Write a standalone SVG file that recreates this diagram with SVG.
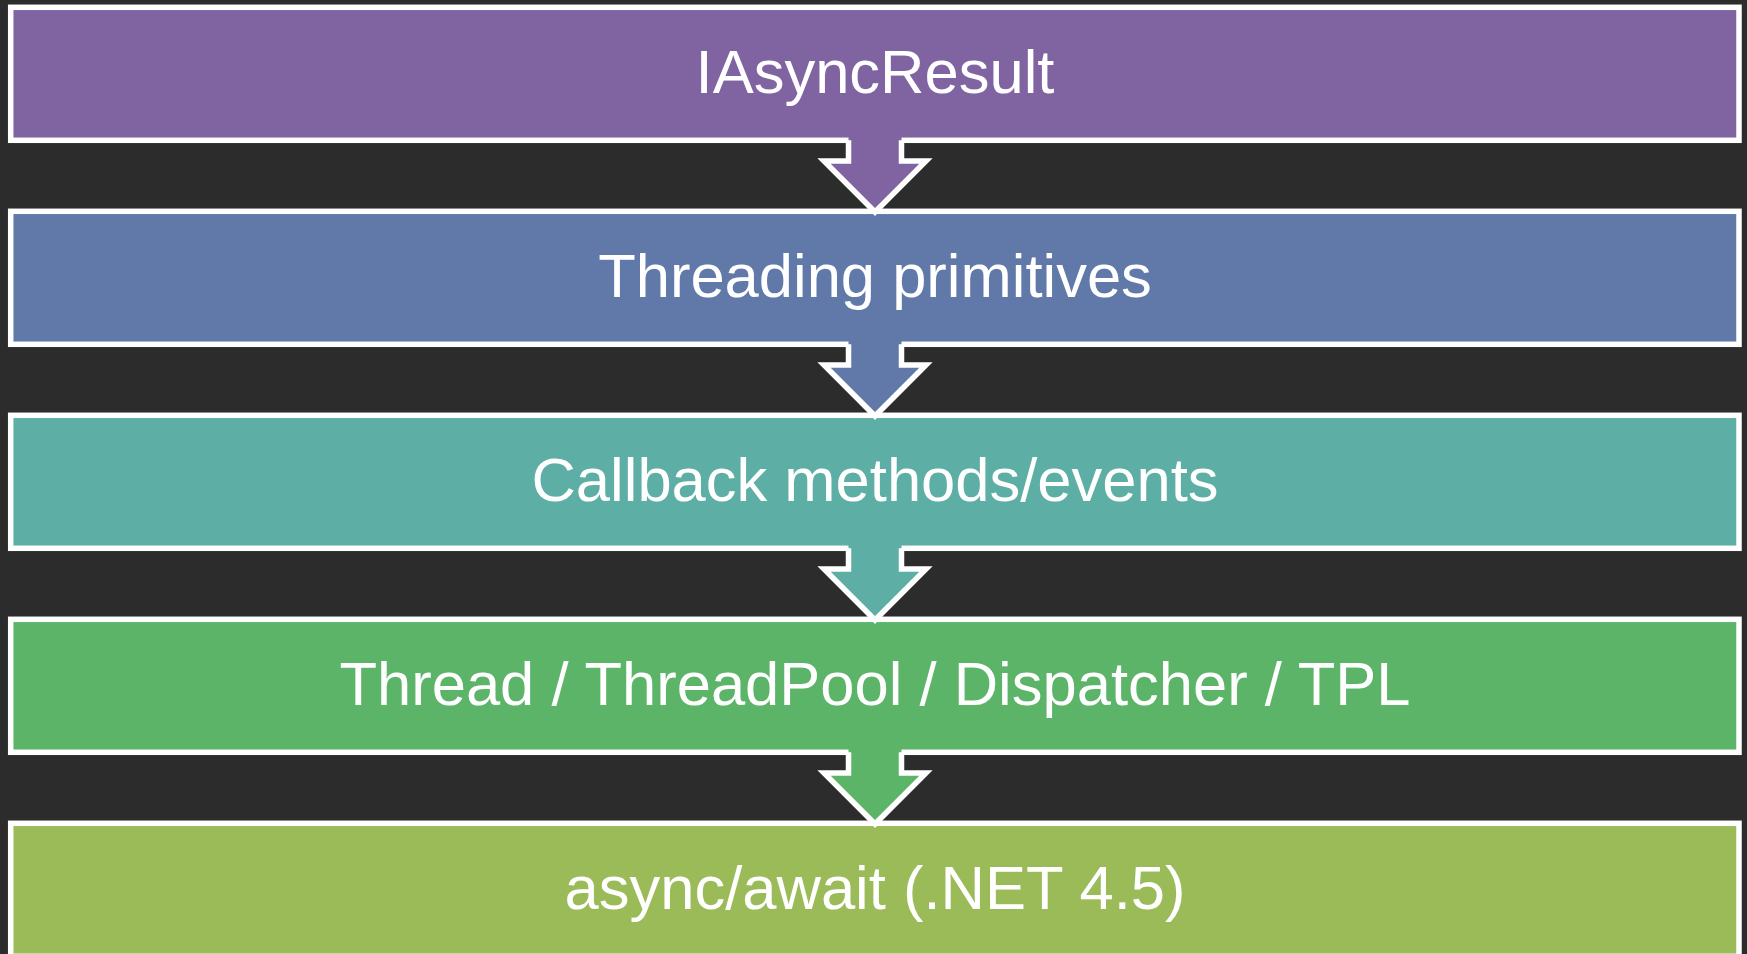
<svg xmlns="http://www.w3.org/2000/svg" width="1747" height="954" viewBox="0 0 1747 954">
<style>
.box{stroke:#FFFFFF;stroke-width:5.5}
.lbl{font-family:"Liberation Sans",Arial,sans-serif;font-size:61.5px;fill:#FFFFFF;text-anchor:middle}
.af{stroke:none}
.as{fill:none;stroke:#FFFFFF;stroke-width:5.5;stroke-linejoin:miter}
.c1{fill:#8064A2}.c2{fill:#6079A8}.c3{fill:#5DAEA4}.c4{fill:#5CB468}.c5{fill:#9BBB59}
</style>
<rect x="0" y="0" width="1747" height="954" fill="#2D2C2D"/>
<g id="node1"><rect class="box c1" x="10.7" y="7.3" width="1728.3" height="133"/><text class="lbl" x="875" y="93">IAsyncResult</text></g>
<g id="node2"><rect class="box c2" x="10.7" y="211.3" width="1728.3" height="133"/><text class="lbl" x="875" y="297">Threading primitives</text></g>
<g id="node3"><rect class="box c3" x="10.7" y="415.3" width="1728.3" height="133"/><text class="lbl" x="875" y="501">Callback methods/events</text></g>
<g id="node4"><rect class="box c4" x="10.7" y="619.3" width="1728.3" height="133"/><text class="lbl" x="875" y="705">Thread / ThreadPool / Dispatcher / TPL</text></g>
<g id="node5"><rect class="box c5" x="10.7" y="823.3" width="1728.3" height="133"/><text class="lbl" x="875" y="909">async/await (.NET 4.5)</text></g>
<g id="connectors">
<g transform="translate(0,0)"><path class="af c1" d="M848.5,135 V161 H824 L875,212 L926,161 H901.5 V135 Z"/><polyline class="as" points="848.5,140.3 848.5,161 824,161 875,212 926,161 901.5,161 901.5,140.3"/></g>
<g transform="translate(0,204)"><path class="af c2" d="M848.5,135 V161 H824 L875,212 L926,161 H901.5 V135 Z"/><polyline class="as" points="848.5,140.3 848.5,161 824,161 875,212 926,161 901.5,161 901.5,140.3"/></g>
<g transform="translate(0,408)"><path class="af c3" d="M848.5,135 V161 H824 L875,212 L926,161 H901.5 V135 Z"/><polyline class="as" points="848.5,140.3 848.5,161 824,161 875,212 926,161 901.5,161 901.5,140.3"/></g>
<g transform="translate(0,612)"><path class="af c4" d="M848.5,135 V161 H824 L875,212 L926,161 H901.5 V135 Z"/><polyline class="as" points="848.5,140.3 848.5,161 824,161 875,212 926,161 901.5,161 901.5,140.3"/></g>
</g>
</svg>
